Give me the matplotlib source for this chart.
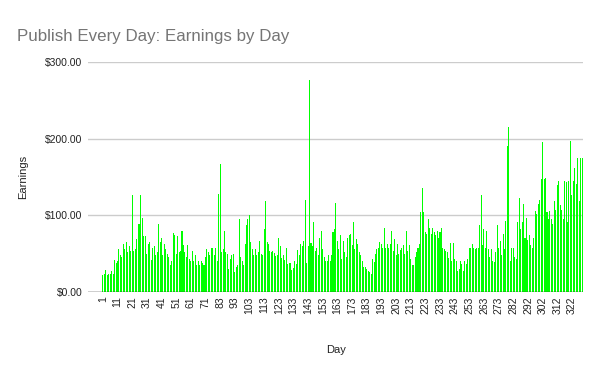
import matplotlib
matplotlib.use("Agg")
import matplotlib.pyplot as plt
import matplotlib.ticker as mticker

plt.rcParams['font.family'] = ['Liberation Sans', 'DejaVu Sans']

# day labels (a couple of days missing around 72-73, one day listed twice near 276)
days = list(range(1, 72)) + list(range(74, 277)) + list(range(276, 330))

earnings = [
    22, 23, 29, 22, 24, 23, 28, 24, 42, 38,
    41, 56, 48, 45, 63, 56, 65, 52, 60, 54,
    126, 54, 56, 69, 89, 89, 126, 97, 73, 73,
    50, 63, 65, 42, 58, 60, 48, 52, 89, 65,
    71, 48, 63, 56, 50, 45, 35, 41, 77, 74,
    50, 73, 52, 54, 80, 61, 52, 45, 61, 43,
    41, 53, 41, 48, 35, 41, 35, 41, 38, 35,
    45, 56, 52, 48, 58, 58, 48, 58, 41, 128,
    167, 52, 56, 80, 52, 50, 30, 43, 48, 50,
    26, 32, 35, 95, 45, 41, 35, 63, 87, 95,
    100, 65, 56, 48, 56, 48, 52, 67, 50, 48,
    82, 119, 65, 63, 54, 52, 53, 51, 47, 48,
    71, 60, 44, 48, 42, 57, 37, 38, 38, 29,
    31, 40, 36, 55, 48, 62, 60, 66, 120, 38,
    60, 277, 64, 60, 91, 54, 58, 48, 71, 80,
    56, 45, 41, 41, 48, 41, 48, 78, 82, 116,
    67, 56, 74, 43, 67, 52, 45, 71, 74, 76,
    61, 91, 56, 69, 63, 52, 48, 40, 32, 32,
    30, 28, 26, 24, 43, 39, 50, 56, 58, 65,
    63, 58, 84, 58, 63, 58, 63, 80, 54, 69,
    48, 63, 50, 55, 58, 61, 50, 80, 54, 61,
    43, 35, 35, 45, 52, 58, 63, 104, 136, 104,
    78, 76, 95, 84, 76, 84, 78, 74, 80, 71,
    78, 84, 58, 56, 54, 52, 44, 64, 41, 64,
    43, 41, 28, 30, 41, 37, 28, 41, 37, 43,
    57, 58, 63, 58, 56, 58, 58, 87, 126, 61,
    82, 58, 80, 56, 45, 56, 41, 39, 52, 87,
    58, 67, 48, 76, 56, 93, 190, 215, 41, 58,
    58, 45, 43, 91, 122, 82, 91, 115, 71, 97,
    68, 74, 61, 58, 71, 106, 102, 115, 120, 147,
    195, 147, 149, 104, 95, 106, 95, 89, 119, 107,
    139, 145, 113, 107, 95, 145, 143, 91, 145, 197,
    126, 145, 162, 141, 175, 119, 175, 175,
]

fig = plt.figure(figsize=(6, 3.71), dpi=100)
ax = fig.add_axes([0.147, 0.213, 0.825, 0.62])

x = list(range(len(earnings)))
ax.bar(x, earnings, width=0.7, color='#00ff00', zorder=3)

ax.set_xlim(-10, len(earnings) - 0.3)
ax.set_ylim(0, 300)
ax.set_yticks([0, 100, 200, 300])
ax.yaxis.set_major_formatter(mticker.FuncFormatter(lambda v, p: '${:,.2f}'.format(v)))
ax.grid(axis='y', color='#cccccc', linewidth=1, zorder=0)
ax.axhline(0, color='#333333', linewidth=1, zorder=4)
for s in ax.spines.values():
    s.set_visible(False)

ax.set_xticks(x[::10])
ax.set_xticklabels([str(d) for d in days[::10]], rotation=90, fontsize=7.5, color='#222222')
ax.tick_params(axis='x', length=0, pad=3)
ax.tick_params(axis='y', length=0, pad=4, labelsize=7.5, labelcolor='#222222')

ax.set_xlabel('Day', fontsize=8, color='#222222')
ax.xaxis.set_label_coords(0.5, -0.23)
ax.set_ylabel('Earnings', fontsize=8, color='#222222')
ax.yaxis.set_label_coords(-0.121, 0.5)

fig.text(0.028, 0.89, 'Publish Every Day: Earnings by Day', fontsize=12.2, color='#757575')

plt.savefig('out.png', dpi=100)
